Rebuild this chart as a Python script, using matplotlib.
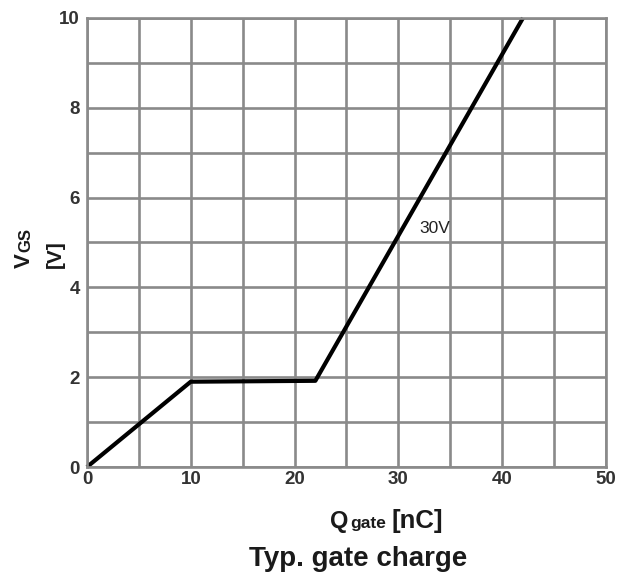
import matplotlib.pyplot as plt
import numpy as np

plt.rcParams['font.family'] = ['Liberation Sans', 'DejaVu Sans']

# gate charge curve (30V)
q_gate = [0, 10, 22, 42]
v_gs = [0, 1.9, 1.92, 10]
x_ticks = [0, 10, 20, 30, 40, 50]
y_ticks = [0, 2, 4, 6, 8, 10]

fig = plt.figure(figsize=(6.3, 5.78), dpi=100)
ax = fig.add_axes([0.138, 0.192, 0.824, 0.777])

grid_col = '#8a8a8a'
txt_col = '#1a1a1a'
ax.set_xlim(0, 50)
ax.set_ylim(0, 10)
ax.set_xticks(x_ticks)
ax.set_yticks(y_ticks)
ax.set_xticks(np.arange(0, 51, 5), minor=True)
ax.set_yticks(np.arange(0, 11, 1), minor=True)
ax.grid(which='both', color=grid_col, linewidth=1.9)
ax.set_axisbelow(True)
for s in ax.spines.values():
    s.set_color(grid_col)
    s.set_linewidth(1.9)
ax.tick_params(which='both', length=0)
ax.tick_params(labelsize=13.5, labelcolor='#333333')
ax.tick_params(axis='y', pad=5)
ax.tick_params(axis='x', pad=3)
for lbl in ax.get_xticklabels() + ax.get_yticklabels():
    lbl.set_fontweight('bold')

ax.plot(q_gate, v_gs, color='black', linewidth=3, solid_capstyle='butt', clip_on=False)
ax.text(32.0, 5.22, '30V', fontsize=12.5, color='#222222')

# y label, rotated
kw = dict(rotation=90, rotation_mode='anchor', ha='left', va='baseline',
          fontweight='bold', color=txt_col)
fig.text(0.0476, 0.536, 'V', fontsize=16, **kw)
fig.text(0.0476, 0.564, 'GS', fontsize=12, **kw)
fig.text(0.0968, 0.536, '[V]', fontsize=15, **kw)

# x label
fig.text(0.524, 0.086, 'Q', fontsize=17, fontweight='bold', color=txt_col, va='baseline')
fig.text(0.556, 0.086, 'gate', fontsize=12.5, fontweight='bold', color=txt_col, va='baseline')
fig.text(0.622, 0.086, '[nC]', fontsize=18.5, fontweight='bold', color=txt_col, va='baseline')

fig.text(0.568, 0.021, 'Typ. gate charge', fontsize=20, fontweight='bold',
         color=txt_col, ha='center', va='baseline')

fig.savefig('out.png', dpi=100)
